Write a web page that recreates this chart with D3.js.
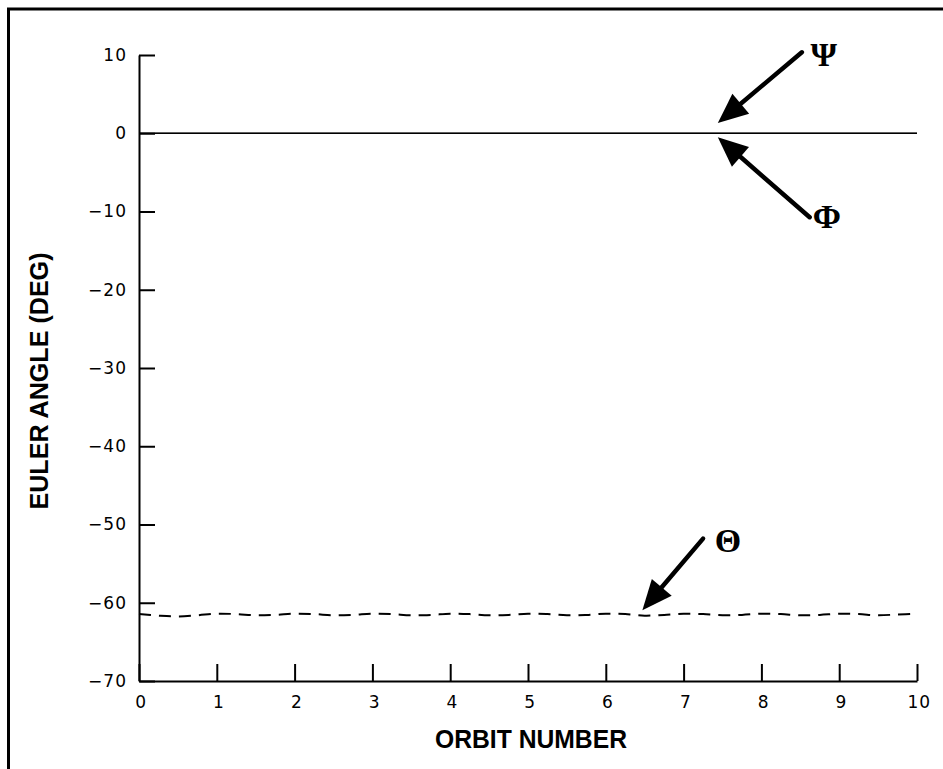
<!DOCTYPE html>
<html>
<head>
<meta charset="utf-8">
<script src="https://cdn.jsdelivr.net/npm/d3@7"></script>
<style>
  body { margin: 0; background: #fff; }
  svg { display: block; }
  .tick text { font-family: "DejaVu Sans", "Liberation Sans", sans-serif; font-size: 17px; letter-spacing: 1px; fill: #000; }
</style>
</head>
<body>
<div id="vis"></div>
<script>
'use strict'

// orbit number (x) for each sample
const orbit = d3.range(0, 10.001, 0.25)
// theta (deg)
const theta = [-61.45, -61.65, -61.75, -61.6, -61.4, -61.45, -61.6, -61.55, -61.4,
  -61.45, -61.6, -61.55, -61.4, -61.45, -61.6, -61.55, -61.4, -61.45, -61.6, -61.55,
  -61.4, -61.45, -61.6, -61.55, -61.4, -61.45, -61.65, -61.55, -61.4, -61.45, -61.6,
  -61.55, -61.4, -61.45, -61.6, -61.55, -61.4, -61.45, -61.6, -61.5, -61.4]
// psi and phi sit on zero the whole time
const psi = orbit.map(() => 0)
const phi = orbit.map(() => 0)

const xTicks = [0, 1, 2, 3, 4, 5, 6, 7, 8, 9, 10]
const yTicks = [10, 0, -10, -20, -30, -40, -50, -60, -70]

// annotation arrows: tail, tip and label, in data units
const notes = [
  {label: "\u03A8", tail: [8.52, 10.35], tip: [7.44, 1.3], at: [8.8, 10.1]},
  {label: "\u03A6", tail: [8.62, -10.73], tip: [7.44, -0.5], at: [8.84, -10.5]},
  {label: "\u0398", tail: [7.25, -51.8], tip: [6.47, -60.95], at: [7.57, -51.9]}
]

function wrapper(){
  let width = 943
  let height = 769

  let svg = d3.select("#vis").append("svg")
    .attr("width", width)
    .attr("height", height)

  // frame (only top and left edges show)
  svg.append("line").attr("x1", 7).attr("x2", width).attr("y1", 9).attr("y2", 9)
    .attr("stroke", "#000").attr("stroke-width", 3)
  svg.append("line").attr("x1", 8.5).attr("x2", 8.5).attr("y1", 8).attr("y2", height)
    .attr("stroke", "#000").attr("stroke-width", 3)

  let x = d3.scaleLinear().domain([0, 10]).range([139, 917])
  let y = d3.scaleLinear().domain([-70, 10]).range([681, 55])

  let yAxis = svg.append("g")
    .attr("transform", "translate(" + x(0) + ",0)")
    .call(d3.axisLeft(y).tickValues(yTicks).tickSizeInner(-16).tickSizeOuter(0).tickPadding(12)
      .tickFormat(function(d){ return d < 0 ? "\u2212" + Math.abs(d) : d }))
  yAxis.selectAll("path, line").attr("stroke", "#000").attr("stroke-width", 2)

  let xAxis = svg.append("g")
    .attr("transform", "translate(0," + y(-70) + ")")
    .call(d3.axisBottom(x).tickValues(xTicks).tickSizeInner(-17).tickSizeOuter(0).tickPadding(15))
  xAxis.selectAll("path, line").attr("stroke", "#000").attr("stroke-width", 2)
  xAxis.selectAll(".tick text").attr("dx", "0.1em")

  let line = d3.line()
    .x(function(d, i){ return x(orbit[i]) })
    .y(function(d){ return y(d) })

  svg.append("path").datum(psi).attr("d", line)
    .attr("fill", "none").attr("stroke", "#000").attr("stroke-width", 1.5)
  svg.append("path").datum(phi).attr("d", line)
    .attr("fill", "none").attr("stroke", "#000").attr("stroke-width", 1.2)

  svg.append("path").datum(theta).attr("d", line.curve(d3.curveCardinal))
    .attr("fill", "none").attr("stroke", "#000").attr("stroke-width", 2)
    .attr("stroke-dasharray", "12,8")

  // arrows
  let arrows = svg.append("g").selectAll("g").data(notes).join("g")
  arrows.each(function(d){
    let g = d3.select(this)
    let x0 = x(d.tail[0]), y0 = y(d.tail[1])
    let x1 = x(d.tip[0]), y1 = y(d.tip[1])
    let dx = x1 - x0, dy = y1 - y0
    let len = Math.sqrt(dx * dx + dy * dy)
    let ux = dx / len, uy = dy / len
    let headL = 30, headW = 13
    let bx = x1 - ux * headL, by = y1 - uy * headL
    g.append("line")
      .attr("x1", x0).attr("y1", y0).attr("x2", bx + ux * 2).attr("y2", by + uy * 2)
      .attr("stroke", "#000").attr("stroke-width", 4.5).attr("stroke-linecap", "round")
    g.append("path")
      .attr("d", "M" + x1 + "," + y1 +
        "L" + (bx - uy * headW) + "," + (by + ux * headW) +
        "L" + (bx + uy * headW) + "," + (by - ux * headW) + "Z")
      .attr("fill", "#000")
    g.append("text")
      .attr("x", x(d.at[0])).attr("y", y(d.at[1]))
      .attr("dy", "0.36em")
      .attr("text-anchor", "middle")
      .style("font-family", "'Liberation Serif', 'Times New Roman', serif")
      .style("font-weight", "bold")
      .style("font-size", "34px")
      .text(d.label)
  })

  // axis titles
  svg.append("text")
    .attr("x", 531).attr("y", 748)
    .attr("text-anchor", "middle")
    .attr("textLength", 192).attr("lengthAdjust", "spacingAndGlyphs")
    .style("font-family", "'Liberation Sans', Arial, sans-serif")
    .style("font-weight", "bold")
    .style("font-size", "26px")
    .text("ORBIT NUMBER")

  svg.append("text")
    .attr("transform", "translate(48,381) rotate(-90)")
    .attr("text-anchor", "middle")
    .attr("textLength", 257).attr("lengthAdjust", "spacingAndGlyphs")
    .style("font-family", "'Liberation Sans', Arial, sans-serif")
    .style("font-weight", "bold")
    .style("font-size", "26px")
    .text("EULER ANGLE (DEG)")
}

wrapper()
</script>
</body>
</html>
